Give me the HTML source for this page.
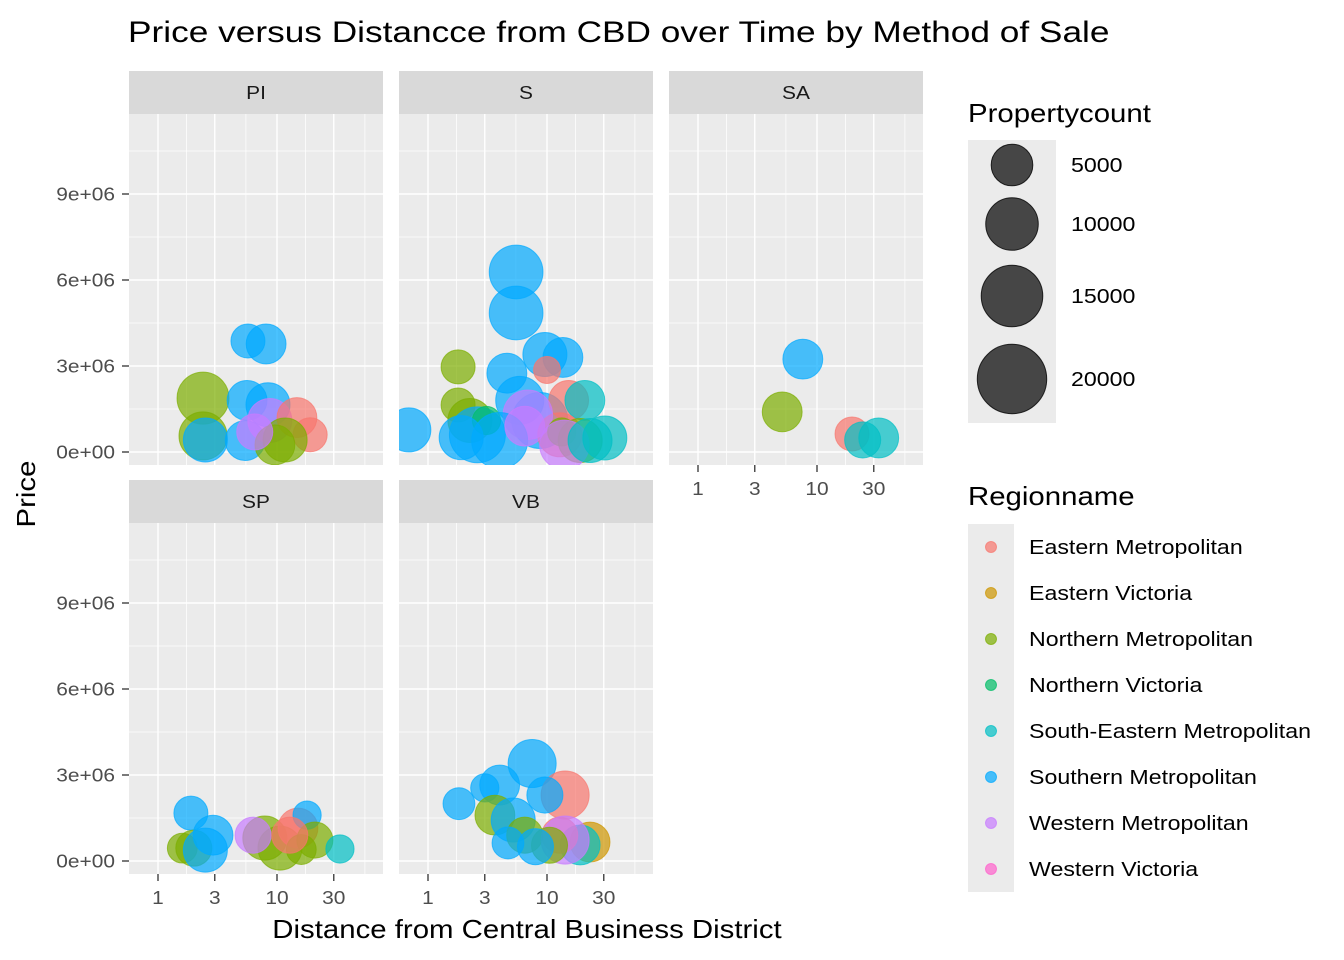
<!DOCTYPE html>
<html><head><meta charset="utf-8"><style>
body{margin:0;background:#fff;}
svg{display:block;font-family:"Liberation Sans",Arial,sans-serif;}
</style></head><body>
<svg id="c" width="1344" height="960"></svg>
<script>
// ---- data ----
const regions = ["Eastern Metropolitan","Eastern Victoria","Northern Metropolitan","Northern Victoria","South-Eastern Metropolitan","Southern Metropolitan","Western Metropolitan","Western Victoria"];
const regionColors = ["#F8766D","#CD9600","#7CAE00","#00BE67","#00BFC4","#00A9FF","#C77CFF","#FF61CC"];
const facets = ["PI","S","SA","SP","VB"];
const xTicks = [1,3,10,30];
const yTicks = [0,3e6,6e6,9e6];
const yTickLabels = ["0e+00","3e+06","6e+06","9e+06"];
const sizeBreaks = [5000,10000,15000,20000];
// region index, distance, price, propertycount
const piRegion = [2,2,5,5,5,5,5,5,6,0,0,2,2,6];
const piDist   = [2.39,2.39,2.5,5.7,8.1,5.6,8.4,5.4,8.7,14.7,19,11.7,9.6,6.5];
const piPrice  = [1.88e6,0.56e6,0.42e6,3.87e6,3.77e6,1.8e6,1.65e6,0.4e6,1.1e6,1.2e6,0.6e6,0.42e6,0.25e6,0.7e6];
const piCount  = [9700,7800,6000,2200,4300,4300,6000,4300,6000,4300,2200,6000,4300,2900];
const sRegion = [5,2,2,2,5,5,5,5,5,5,5,5,3,0,0,4,0,6,2,2,6,4,4,5,5,6];
const sDist   = [0.69,1.79,1.79,2.25,2.6,5.5,5.5,4.6,9.6,13.6,5.9,8.7,3.1,10,15.2,20.8,12.8,6.9,19,13.3,14,30.6,23,4.0,1.9,6.5];
const sPrice  = [0.77e6,2.97e6,1.64e6,1.1e6,0.6e6,6.28e6,4.85e6,2.75e6,3.4e6,3.3e6,1.8e6,1.1e6,1.1e6,2.86e6,1.8e6,1.8e6,0.6e6,1.3e6,0.4e6,0.7e6,0.25e6,0.49e6,0.4e6,0.4e6,0.5e6,0.9e6];
const sCount  = [6000,2200,2200,6000,11800,10600,10600,4300,6000,4300,7800,11800,450,100,4300,4300,6000,8500,6000,450,8500,6000,6000,11800,6000,4300];
const saRegion = [5,2,0,4,4];
const saDist   = [7.6,5.1,19.7,24.2,33];
const saPrice  = [3.24e6,1.4e6,0.63e6,0.42e6,0.49e6];
const saCount  = [4300,4300,2200,2900,4300];
const spRegion = [5,2,2,5,5,2,2,6,0,5,2,2,4,0];
const spDist   = [1.89,1.6,2.0,2.9,2.5,7.9,10.6,6.3,15,17.9,20.8,16,33.8,12.8];
const spPrice  = [1.67e6,0.45e6,0.45e6,0.9e6,0.38e6,0.8e6,0.45e6,0.9e6,1.15e6,1.6e6,0.73e6,0.4e6,0.42e6,0.9e6];
const spCount  = [2200,900,2900,4300,6000,6000,6000,2900,4300,450,2900,900,450,2900];
const vbRegion = [5,5,5,0,5,5,2,5,2,5,1,4,0,6,2,5];
const vbDist   = [1.82,3.0,7.5,14.2,4.0,9.6,3.65,5.2,6.5,4.7,23,19,12.8,14.2,10.5,8];
const vbPrice  = [2.0e6,2.55e6,3.4e6,2.3e6,2.65e6,2.3e6,1.6e6,1.43e6,0.9e6,0.63e6,0.66e6,0.56e6,0.9e6,0.73e6,0.55e6,0.5e6];
const vbCount  = [1500,450,7800,7800,4300,2900,4300,6000,2900,1500,4300,4300,2900,7800,2900,2900];

const facetData = {
  PI:{r:piRegion,d:piDist,p:piPrice,n:piCount},
  S:{r:sRegion,d:sDist,p:sPrice,n:sCount},
  SA:{r:saRegion,d:saDist,p:saPrice,n:saCount},
  SP:{r:spRegion,d:spDist,p:spPrice,n:spCount},
  VB:{r:vbRegion,d:vbDist,p:vbPrice,n:vbCount}
};

// ---- layout ----
const NS="http://www.w3.org/2000/svg";
const svg=document.getElementById('c');
function mk(tag,attrs,parent){const e=document.createElementNS(NS,tag);for(const k in attrs)e.setAttribute(k,attrs[k]);(parent||svg).appendChild(e);return e;}
const allText=[];
function widen(e,k){allText.push([e,k||1.13]);return e;}
const PW=254, PH=351;
const panelPos={PI:[129,114],S:[399,114],SA:[669,114],SP:[129,523],VB:[399,523]};
const xs=(left,d)=>left+29+119*Math.log10(d);
const ys=(top,p)=>top+338-p*86/3e6;
const rs=n=>Math.sqrt(176+0.0514*n);
const TICK=18.5, STRIP=18.5, LEG=20.5, TTL=26;

let t=mk('text',{x:128,y:42,'font-size':30,fill:'#000'});


t.textContent='Price versus Distancce from CBD over Time by Method of Sale';
widen(t,1.175);

facets.forEach(f=>{
  const [L,T]=panelPos[f];
  const g=mk('g',{});
  
  
  const strip=mk('rect',{x:L,y:T-43,width:PW,height:43,fill:'#d9d9d9'},g);
  
  
  const st=mk('text',{x:L+PW/2,y:T-15,'text-anchor':'middle','font-size':STRIP,fill:'#1a1a1a'},g);
  
  
  st.textContent=f;
  widen(st);
  mk('rect',{x:L,y:T,width:PW,height:PH,fill:'#ebebeb'},g);
  const cp=mk('clipPath',{id:'cp'+f},g);mk('rect',{x:L,y:T,width:PW,height:PH},cp);
  const cg=mk('g',{'clip-path':'url(#cp'+f+')'},g);
  for(let i=0;i<yTicks.length;i++){const y=ys(T,yTicks[i]+1.5e6);mk('line',{x1:L,x2:L+PW,y1:y,y2:y,stroke:'#fff','stroke-width':0.7},cg);}
  const xb=[0.3,1,3,10,30,100];
  for(let i=0;i<xb.length-1;i++){const x=(xs(L,xb[i])+xs(L,xb[i+1]))/2;mk('line',{x1:x,x2:x,y1:T,y2:T+PH,stroke:'#fff','stroke-width':0.7},cg);}
  yTicks.forEach(v=>{const y=ys(T,v);mk('line',{x1:L,x2:L+PW,y1:y,y2:y,stroke:'#fff','stroke-width':1.4},cg);});
  xTicks.forEach(v=>{const x=xs(L,v);mk('line',{x1:x,x2:x,y1:T,y2:T+PH,stroke:'#fff','stroke-width':1.4},cg);});
  const D=facetData[f];
  for(let i=0;i<D.d.length;i++){
    const col=regionColors[D.r[i]];
    const c=mk('circle',{cx:xs(L,D.d[i]),cy:ys(T,D.p[i]),r:rs(D.n[i]),fill:col,'fill-opacity':0.7,stroke:col,'stroke-opacity':0.7,'stroke-width':1},cg);
    
    
  }
  if(L===129){
    yTicks.forEach((v,i)=>{const y=ys(T,v);mk('line',{x1:122,x2:129,y1:y,y2:y,stroke:'#333','stroke-width':1.3});
      const tl=mk('text',{x:115,y:y+6.5,'text-anchor':'end','font-size':TICK,fill:'#4d4d4d'});
      
      
      tl.textContent=yTickLabels[i];
      widen(tl);});
  }
  if(f==='SA'||f==='SP'||f==='VB'){
    xTicks.forEach(v=>{const x=xs(L,v);mk('line',{x1:x,x2:x,y1:T+PH,y2:T+PH+7,stroke:'#333','stroke-width':1.3});
      const tl=mk('text',{x:x,y:T+PH+30,'text-anchor':'middle','font-size':TICK,fill:'#4d4d4d'});
      
      
      tl.textContent=v;
      widen(tl);});
  }
});

t=mk('text',{x:527,y:938,'text-anchor':'middle','font-size':TTL,fill:'#000'});


t.textContent='Distance from Central Business District';
widen(t);
t=mk('text',{x:0,y:0,'text-anchor':'middle','font-size':TTL,fill:'#000',transform:'translate(35,494) rotate(-90)'});


t.textContent='Price';
widen(t);

t=mk('text',{x:968,y:122,'font-size':TTL,fill:'#000'});


t.textContent='Propertycount';
widen(t);
mk('rect',{x:968,y:140,width:88,height:283,fill:'#ebebeb'});
const sizeY=[165,224,296,379];
sizeBreaks.forEach((v,i)=>{
  const c=mk('circle',{cx:1012,cy:sizeY[i],r:rs(v),fill:'#000','fill-opacity':0.7,stroke:'#000','stroke-opacity':0.8,'stroke-width':1});
  
  
  const tl=mk('text',{x:1071,y:sizeY[i]+7,'font-size':LEG,fill:'#000'});
  
  
  tl.textContent=v;
  widen(tl);
});
t=mk('text',{x:968,y:505,'font-size':TTL,fill:'#000'});


t.textContent='Regionname';
widen(t);
mk('rect',{x:968,y:524,width:46,height:368,fill:'#ebebeb'});
regions.forEach((r,i)=>{
  const y=547+i*46;
  const c=mk('circle',{cx:991,cy:y,r:5.5,fill:regionColors[i],'fill-opacity':0.7,stroke:regionColors[i],'stroke-opacity':0.7});
  
  
  const tl=mk('text',{x:1029,y:y+7,'font-size':LEG,fill:'#000'});
  
  
  tl.textContent=r;
  widen(tl);
});
allText.forEach(([e,k])=>{
  const w=e.getComputedTextLength();
  if(w>0){e.setAttribute('textLength',(w*k).toFixed(1));e.setAttribute('lengthAdjust','spacingAndGlyphs');}
});
</script>
</body></html>
